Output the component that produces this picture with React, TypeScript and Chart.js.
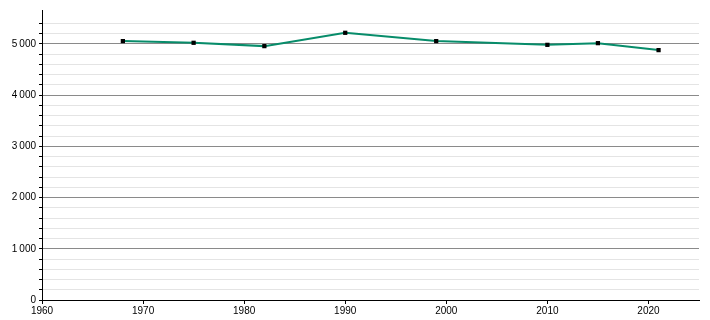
import React, { useEffect, useRef } from "react";
import { Chart, registerables } from "chart.js";

Chart.register(...registerables);

const years = [1968, 1975, 1982, 1990, 1999, 2010, 2015, 2021];
const population = [5053, 5020, 4955, 5215, 5053, 4980, 5013, 4877];
const yMajorStep = 1000;
const yMinorStep = 200;

const fmt = (v: number) => String(v).replace(/\B(?=(\d{3})+(?!\d))/g, "\u202f");

export default function App() {
  const ref = useRef<HTMLCanvasElement>(null);
  useEffect(() => {
    if (!ref.current) return;
    const chart = new Chart(ref.current, {
      type: "line",
      data: {
        datasets: [
          {
            data: years.map((y, i) => ({ x: y, y: population[i] })),
            borderColor: "#078c6a",
            borderWidth: 2,
            pointStyle: "rect",
            pointRadius: 3,
            pointBackgroundColor: "#000",
            pointBorderColor: "#000",
            pointBorderWidth: 0,
            tension: 0,
          },
        ],
      },
      options: {
        animation: false,
        responsive: false,
        layout: { padding: { top: 10, right: 11, left: 0, bottom: 0 } },
        plugins: { legend: { display: false }, tooltip: { enabled: false } },
        scales: {
          x: {
            type: "linear",
            min: 1960,
            max: 2025,
            afterFit: (s: any) => { s.height = 20; },
            ticks: {
              stepSize: 10,
              color: "#000",
              font: { family: "Liberation Sans, Arial, sans-serif", size: 10 },
              padding: 1,
              maxRotation: 0,
              callback: (v: any) => (v % 10 === 0 ? String(v) : ""),
            },
            grid: {
              drawOnChartArea: false,
              drawTicks: true,
              tickLength: 4,
              color: "#000",
              tickColor: (c: any) => {
                const v = c.tick ? c.tick.value : 0;
                return v % 10 === 0 ? "#000" : "rgba(0,0,0,0)";
              },
            },
            border: { color: "#000", width: 1 },
          },
          y: {
            min: 0,
            max: 5660,
            afterFit: (s: any) => { s.width = 42; },
            ticks: {
              stepSize: yMinorStep,
              color: "#000",
              font: { family: "Liberation Sans, Arial, sans-serif", size: 10 },
              padding: 3,
              autoSkip: false,
              callback: (v: any) => (v % yMajorStep === 0 ? fmt(v) : ""),
            },
            grid: {
              drawTicks: true,
              tickLength: 3,
              color: (c: any) => {
                const v = c.tick ? c.tick.value : 0;
                if (v === 0) return "rgba(0,0,0,0)";
                if (v % yMinorStep !== 0) return "rgba(0,0,0,0)";
                return v % yMajorStep === 0 ? "#8a8a8a" : "#e4e4e4";
              },
              tickColor: (c: any) => {
                const v = c.tick ? c.tick.value : 0;
                return v % yMinorStep === 0 ? "#000" : "rgba(0,0,0,0)";
              },
            },
            border: { color: "#000", width: 1 },
          },
        },
      },
    });
    return () => chart.destroy();
  }, []);
  return (
    <div style={{ position: "absolute", left: 0, top: 0, width: 710, height: 320, background: "#fff" }}>
      <canvas ref={ref} width={710} height={320} style={{ display: "block" }} />
    </div>
  );
}
